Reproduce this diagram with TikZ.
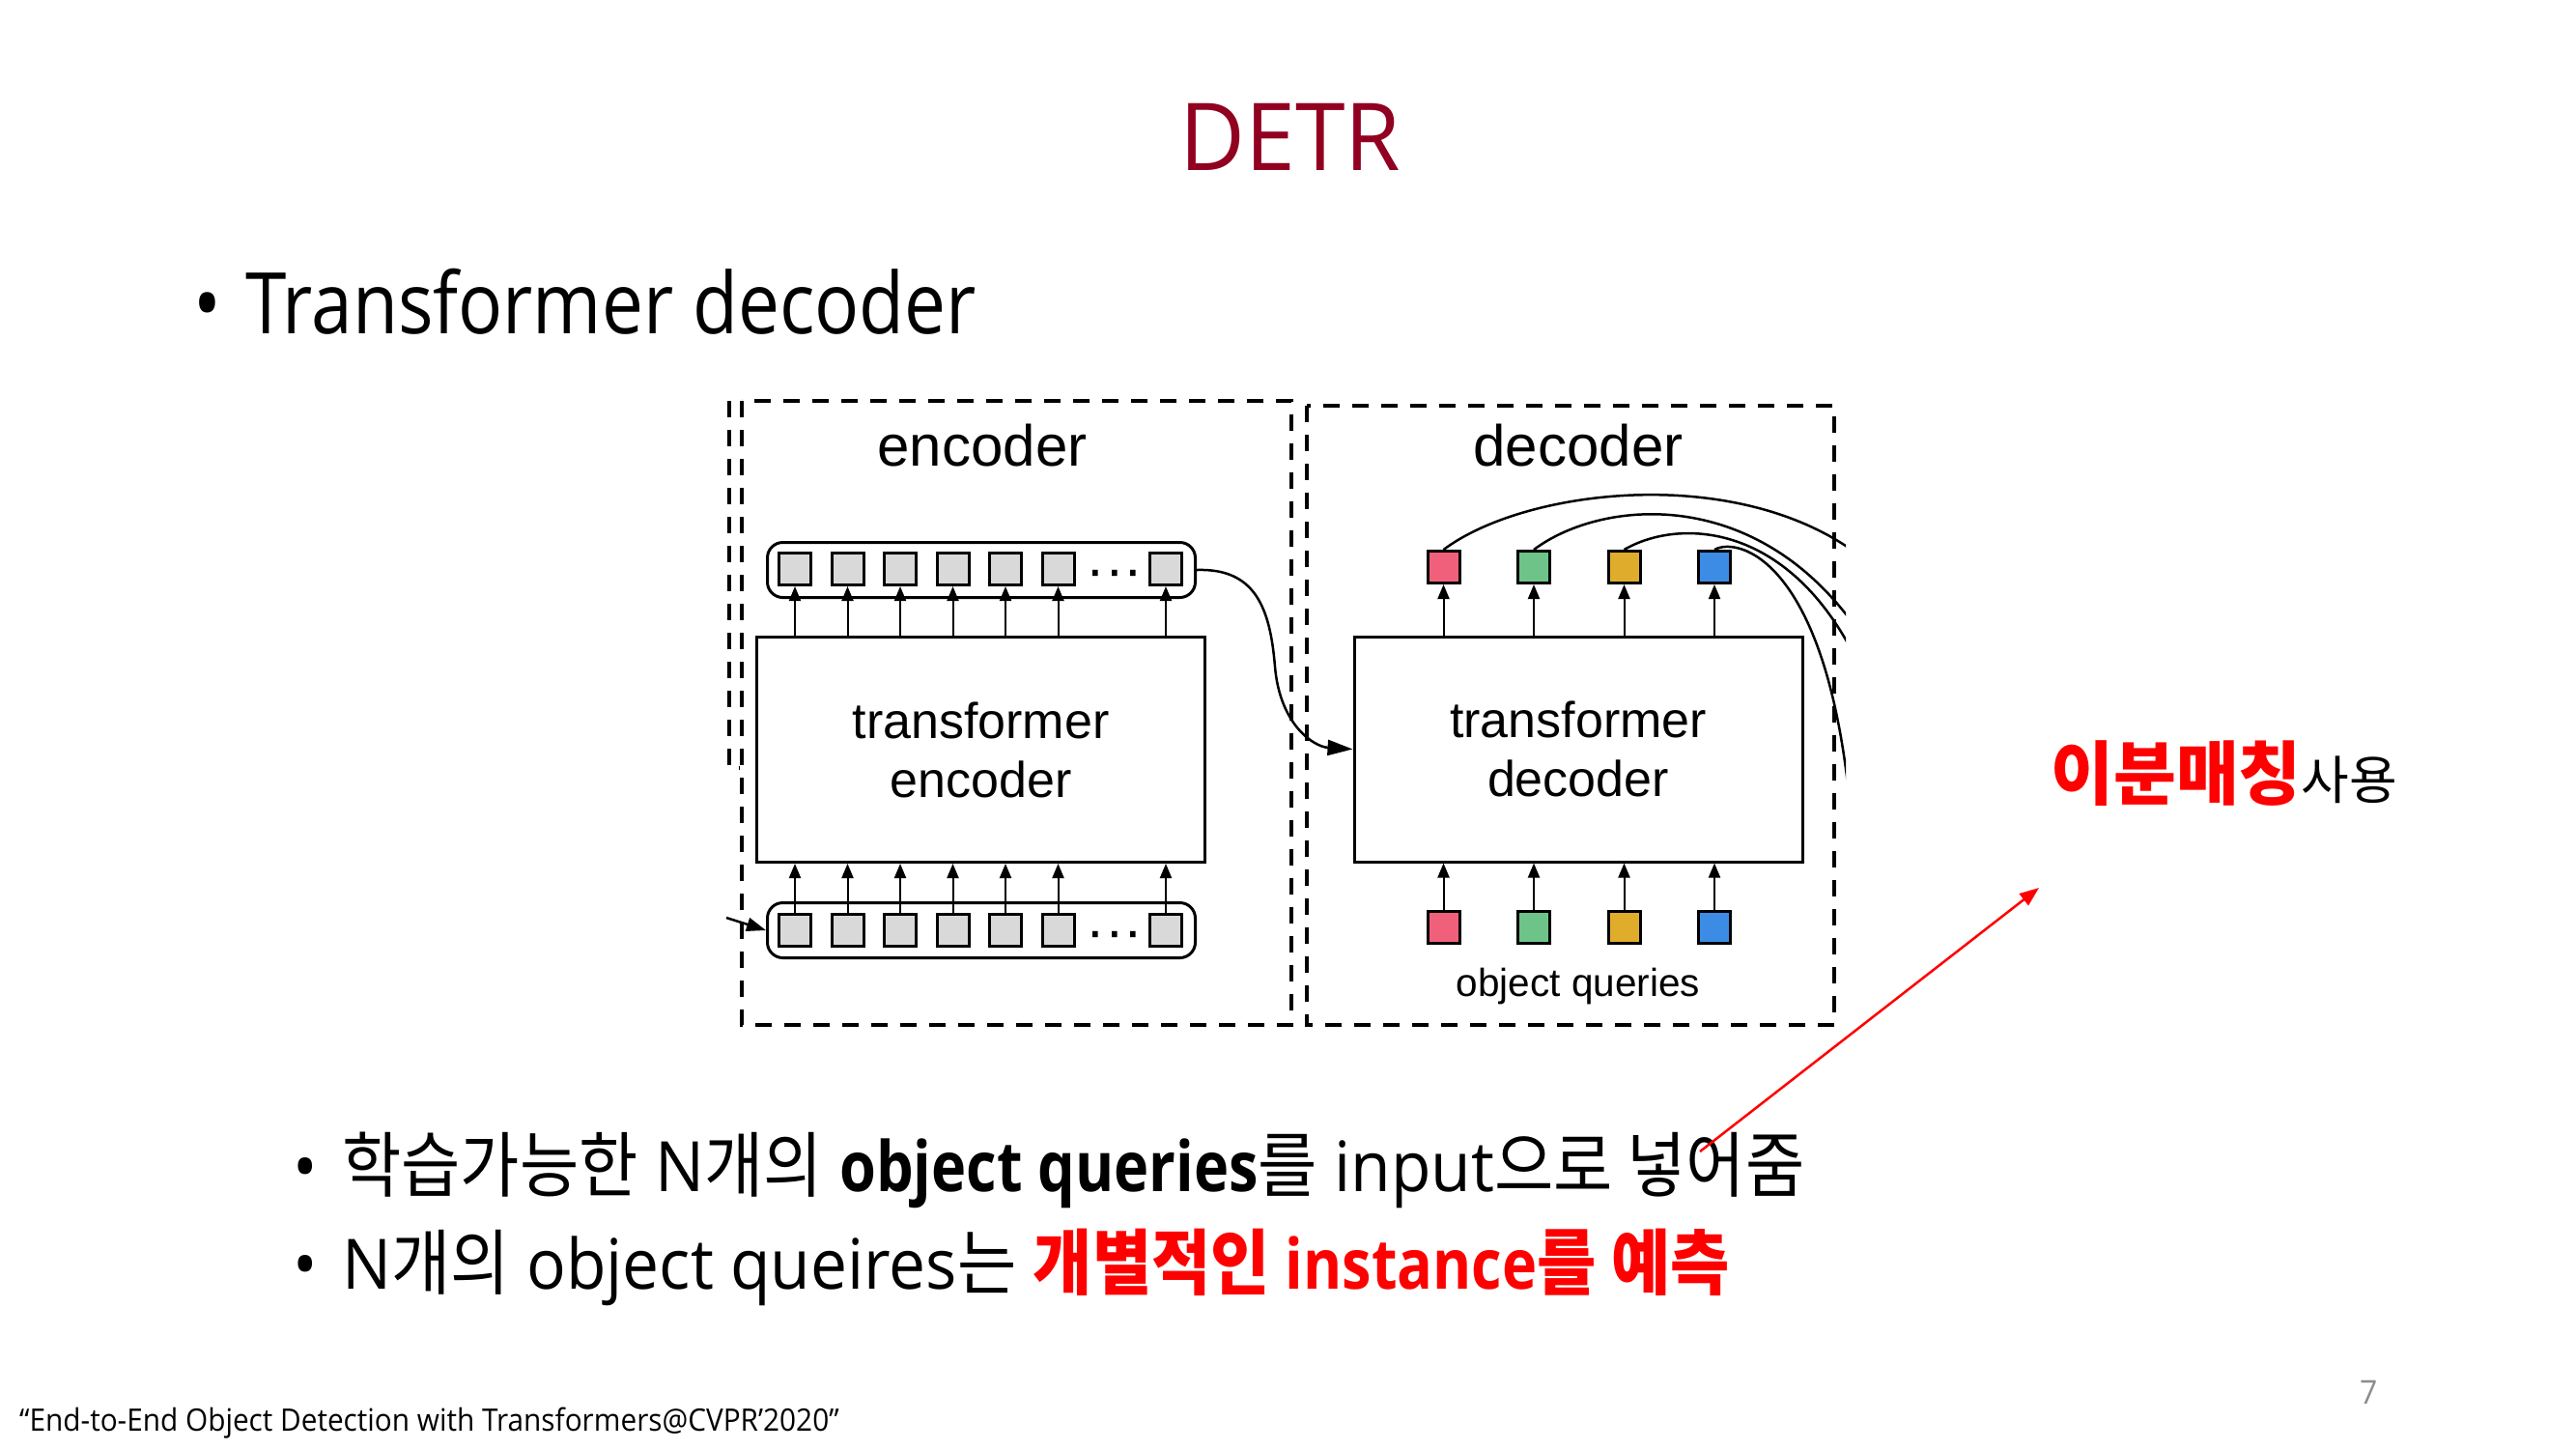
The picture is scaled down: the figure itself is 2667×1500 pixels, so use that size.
\documentclass[tikz,border=0pt]{standalone}
\usepackage{fontspec}
\usetikzlibrary{arrows.meta}
\setmainfont{Open Sans}
\newfontfamily\figfont{Liberation Sans}
\newfontfamily\latT{Open Sans}[FakeStretch=0.96]
\newfontfamily\latH{Open Sans}[FakeStretch=0.87]
\newfontfamily\latA{Open Sans}[FakeStretch=0.94]
\newfontfamily\latB{Open Sans}[FakeStretch=0.85]
\newfontfamily\latF{Open Sans}[FakeStretch=0.93]
\newfontfamily\krA{Noto Sans CJK KR}[FakeStretch=0.9]
\newfontfamily\krB{Noto Sans CJK KR}[FakeStretch=0.98]
\newfontfamily\krC{Noto Sans CJK KR}[FakeStretch=1.0]
\newcommand\fsz[1]{\fontsize{#1pt}{#1pt}\selectfont}
\newcommand\kr[1]{{\krA\fsz{74}#1}}
\newcommand\la[1]{{\latA\fsz{72}#1}}
\newcommand\lb[1]{{\latB\bfseries\fsz{72}#1}}
\definecolor{titlered}{RGB}{145,0,33}
\definecolor{cellgray}{RGB}{217,217,217}
\definecolor{qpink}{RGB}{240,96,122}
\definecolor{qgreen}{RGB}{110,196,136}
\definecolor{qgold}{RGB}{224,172,44}
\definecolor{qblue}{RGB}{60,140,230}
\definecolor{pagegray}{RGB}{140,140,140}
\tikzset{
  dashbox/.style={draw, line width=3.5pt, dash pattern=on 17pt off 13pt},
  tbox/.style={draw, line width=3pt, minimum width=464pt, minimum height=233pt,
    inner sep=0pt, align=center, font={\figfont\fontsize{52pt}{61pt}\selectfont}},
  rowbox/.style={draw, line width=3pt, rounded corners=16pt, minimum width=443pt, minimum height=57pt},
  cell/.style={draw, line width=3pt, minimum size=33pt, inner sep=0pt},
  gcell/.style={cell, fill=cellgray},
  ellip/.style={font=\figfont\fsz{59}, anchor=base, inner sep=0},
  up/.style={-{Triangle[length=15pt,width=12pt]}, line width=2pt},
  wire/.style={line width=2.5pt},
}
\begin{document}
\begin{tikzpicture}[x=1pt,y=-1pt]
\fill[white] (0,0) rectangle (2667,1500);
\useasboundingbox (0,0) rectangle (2667,1500);

% slide title and heading
\node[font=\latT\fsz{97}, text=titlered, anchor=base, inner sep=0] (title) at (1336,176) {DETR};
\node[font=\latH\fsz{88}, anchor=base west, inner sep=0] (head) at (200,345)
  {\makebox[54pt][l]{•}Transformer decoder};

% dashed frames
\draw[dashbox] (755,415) -- (755,795) -- (766,795);
\draw[dashbox] (768,415) rectangle (1337,1061);
\draw[dashbox] (1353,420) rectangle (1899,1061);

% encoder side
\node[font=\figfont\fsz{60}, anchor=base] (enclab) at (1017,482) {encoder};
\node[tbox] (enc) at (1015.5,776) {transformer\\encoder};
\node[rowbox] (encout) at (1016,590) {};
\node[rowbox] (encin) at (1016,963) {};
\foreach \i in {0,...,5} {
  \node[gcell] (o\i) at ({823+54.5*\i},589) {};
  \node[gcell] (in\i) at ({823+54.5*\i},963) {};
}
\node[gcell] (o6) at (1207,589) {};
\node[gcell] (in6) at (1207,963) {};
\node[ellip] (dotso) at (1154,609) {···};
\node[ellip] (dotsi) at (1154,983) {···};
\foreach \i in {0,...,6} {
  \draw[up] (enc.north -| o\i) -- (o\i.south);
  \draw[up] (in\i.north) -- (enc.south -| in\i);
}
\coordinate (feed) at (752,950);
\draw[wire, -{Triangle[length=20pt,width=14pt]}] (feed) -- (encin.west);

% decoder side
\node[font=\figfont\fsz{60}, anchor=base] (declab) at (1634,482) {decoder};
\node[tbox] (dec) at (1634,775.5) {transformer\\decoder};
\foreach \i/\c in {0/qpink,1/qgreen,2/qgold,3/qblue} {
  \node[cell, fill=\c] (t\i) at ({1494.5+93.5*\i},587) {};
  \node[cell, fill=\c] (q\i) at ({1494.5+93.5*\i},960) {};
  \draw[up] (dec.north -| t\i) -- (t\i.south);
  \draw[up] (q\i.north) -- (dec.south -| q\i);
}
\node[font=\figfont\fsz{40.5}, anchor=base] (oq) at (1634,1031) {object queries};

% memory from encoder to decoder
\draw[wire, -{Triangle[length=26pt,width=16pt]}] (encout.east)
  .. controls (1300,588) and (1315,630) .. (1320,690)
  .. controls (1325,750) and (1360,773) .. (dec.west);

% prediction outputs leaving the figure
\begin{scope}
  \clip (1400,400) rectangle (1911,1070);
  \draw[wire] (t0.north) .. controls (1580,505) and (1800,480) .. (1925,575);
  \draw[wire] (t1.north) .. controls (1660,515) and (1830,500) .. (1935,670);
  \draw[wire] (t2.north) .. controls (1740,535) and (1860,540) .. (1930,700);
  \draw[wire] (t3.north) .. controls (1800,555) and (1890,580) .. (1915,830);
\end{scope}

% notes
\node[anchor=base west, inner sep=0] (bm) at (2123,827)
  {{\krB\bfseries\fsz{72}\color{red}이분매칭}{\krC\fsz{54}사용}};
\node[anchor=base west, inner sep=0] (l1) at (303,1233)
  {\makebox[51pt][l]{\la{•}}\kr{학습가능한}\la{ N}\kr{개의}\la{ }\lb{object queries}\kr{를}\la{ input}\kr{으로 넣어줌}};
\node[anchor=base west, inner sep=0] (l2) at (303,1334)
  {\makebox[51pt][l]{\la{•}}\la{N}\kr{개의}\la{ object queires}\kr{는}\la{ }\color{red}\kr{\bfseries 개별적인}\lb{ instance}\kr{\bfseries 를 예측}};

\coordinate (ra) at (1760,1192);
\coordinate (rb) at (2111,919);
\draw[red, line width=2.5pt, -{Triangle[length=20pt,width=15pt]}] (ra) -- (rb);

% footer
\node[font=\latF\fsz{32}, anchor=base west, inner sep=0] (cite) at (20,1481)
  {“End-to-End Object Detection with Transformers@CVPR’2020”};
\node[font=\latA\fsz{34}, text=pagegray, anchor=base west, inner sep=0] (pg) at (2443,1453) {7};
\end{tikzpicture}
\end{document}
